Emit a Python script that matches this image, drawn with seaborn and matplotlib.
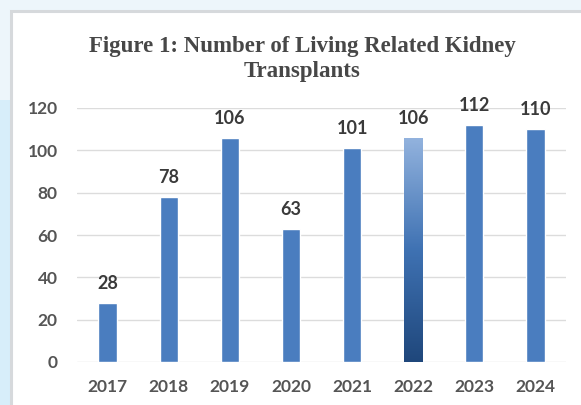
import numpy as np
import pandas as pd
import matplotlib
matplotlib.use("Agg")
import matplotlib.pyplot as plt
from matplotlib.patches import Rectangle
from matplotlib.colors import LinearSegmentedColormap
import seaborn as sns

# Living related kidney transplants per year
years = ["2017", "2018", "2019", "2020", "2021", "2022", "2023", "2024"]
transplants = [28, 78, 106, 63, 101, 106, 112, 110]
y_ticks = [0, 20, 40, 60, 80, 100, 120]
title = "Figure 1: Number of Living Related Kidney\nTransplants"

df = pd.DataFrame({"year": years, "count": transplants})

sns.set_theme(style="white")
plt.rcParams["font.family"] = ["Lato", "DejaVu Sans"]

W, H = 581, 405
fig = plt.figure(figsize=(W / 100, H / 100), dpi=100)
fig.patch.set_facecolor("#edf6fb")

# light blue strip on the left and the white chart panel with a soft grey frame
fig.add_artist(Rectangle((0, 0), 11 / W, 1 - 100 / H, transform=fig.transFigure,
                         facecolor="#d7eefa", edgecolor="none", zorder=0))
fig.add_artist(Rectangle((11 / W, -0.01), 1.0, 1 - 11 / H + 0.01,
                         transform=fig.transFigure, facecolor="white",
                         edgecolor="#d6d9dc", linewidth=2.2, zorder=0))

ax = fig.add_axes([77 / W, 1 - 362 / H, (566 - 77) / W, (362 - 108) / H])
ax.set_facecolor("none")

bar_color = "#4a7dbf"
sns.barplot(data=df, x="year", y="count", color=bar_color, width=0.3,
            saturation=1, ax=ax, zorder=3)

# gradient fill for the 2022 bar
grad_cmap = LinearSegmentedColormap.from_list("g", ["#1f477b", "#3f72b3", "#93b3de"])
p = ax.patches[years.index("2022")]
p.set_facecolor("none")
x0, w, h = p.get_x(), p.get_width(), p.get_height()
img = ax.imshow(np.linspace(0, 1, 256).reshape(-1, 1), cmap=grad_cmap,
                extent=(x0, x0 + w, 0, h), origin="lower", aspect="auto",
                zorder=3)
img.set_clip_path(p)

ax.set_ylim(0, 120)
ax.set_xlim(-0.5, len(years) - 0.5)
ax.set_yticks(y_ticks)
ax.yaxis.grid(True, color="#dcdcdc", linewidth=1.0, zorder=0)
ax.set_axisbelow(True)
for s in ax.spines.values():
    s.set_visible(False)
ax.set_xlabel("")
ax.set_ylabel("")
ax.tick_params(axis="y", length=0, pad=14, labelsize=12.5, labelcolor="#555555")
ax.tick_params(axis="x", length=0, pad=12, labelsize=12.5, labelcolor="#555555")
for lab in ax.get_xticklabels() + ax.get_yticklabels():
    lab.set_fontweight("bold")

for i, v in enumerate(transplants):
    ax.annotate(str(v), (i, v), xytext=(0, 8), textcoords="offset points",
                ha="center", va="bottom", fontsize=13, fontweight="bold",
                color="#3a3a3a")

fig.text(302 / W, 1 - 36 / H, title, ha="center", va="top",
         family=["Liberation Serif"], fontweight="bold", fontsize=16.5,
         color="#474747", linespacing=1.27)

fig.savefig("out.png", dpi=100, facecolor=fig.get_facecolor())
